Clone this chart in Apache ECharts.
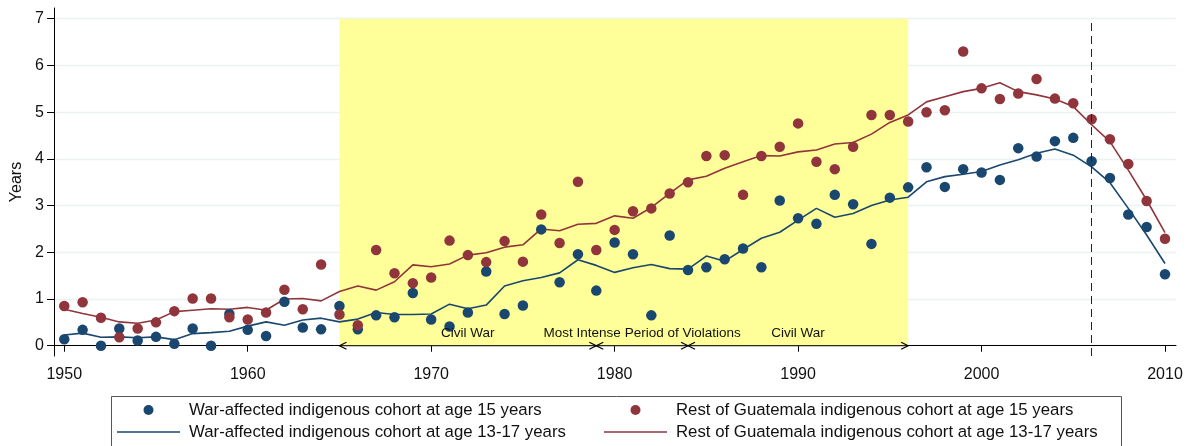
<!DOCTYPE html>
<html lang="en">
<head>
    <meta charset="UTF-8">
    <title>Years of schooling by cohort</title>
    <script src="https://cdn.jsdelivr.net/npm/echarts@6/dist/echarts.min.js"></script>
    <style>
        html, body { margin: 0; padding: 0; background: #fff; }
    </style>
</head>
<body>
    <div id="main" style="width: 1194px; height: 446px;"></div>
    <script>
        var years = [1950, 1951, 1952, 1953, 1954, 1955, 1956, 1957, 1958, 1959,
                     1960, 1961, 1962, 1963, 1964, 1965, 1966, 1967, 1968, 1969,
                     1970, 1971, 1972, 1973, 1974, 1975, 1976, 1977, 1978, 1979,
                     1980, 1981, 1982, 1983, 1984, 1985, 1986, 1987, 1988, 1989,
                     1990, 1991, 1992, 1993, 1994, 1995, 1996, 1997, 1998, 1999,
                     2000, 2001, 2002, 2003, 2004, 2005, 2006, 2007, 2008, 2009,
                     2010];

        // war-affected cohort, age 15 (dots)
        var warAge15 = [0.14, 0.34, 0.00, 0.37, 0.11, 0.19, 0.04, 0.37, 0.00, 0.68,
                        0.34, 0.21, 0.94, 0.39, 0.35, 0.85, 0.35, 0.65, 0.61, 1.13,
                        0.56, 0.41, 0.71, 1.59, 0.68, 0.86, 2.49, 1.36, 1.96, 1.18,
                        2.21, 1.96, 0.65, 2.36, 1.62, 1.68, 1.85, 2.08, 1.68, 3.11,
                        2.73, 2.61, 3.23, 3.03, 2.18, 3.17, 3.39, 3.82, 3.40, 3.78,
                        3.71, 3.55, 4.23, 4.05, 4.38, 4.45, 3.95, 3.59, 2.81, 2.54,
                        1.53];
        // rest of Guatemala, age 15 (dots)
        var restAge15 = [0.85, 0.93, 0.60, 0.18, 0.37, 0.50, 0.74, 1.01, 1.01, 0.61,
                         0.56, 0.71, 1.20, 0.78, 1.74, 0.67, 0.44, 2.05, 1.55, 1.34,
                         1.46, 2.25, 1.94, 1.79, 2.24, 1.80, 2.81, 2.20, 3.51, 2.05,
                         2.48, 2.88, 2.94, 3.26, 3.50, 4.06, 4.08, 3.23, 4.06, 4.26,
                         4.76, 3.94, 3.78, 4.26, 4.94, 4.94, 4.80, 5.00, 5.04, 6.30,
                         5.51, 5.28, 5.40, 5.71, 5.29, 5.19, 4.85, 4.42, 3.89, 3.10,
                         2.29];
        // war-affected cohort, age 13-17 (line)
        var warAge1317 = [0.23, 0.27, 0.18, 0.19, 0.17, 0.19, 0.13, 0.26, 0.28, 0.31,
                          0.42, 0.51, 0.44, 0.55, 0.59, 0.51, 0.57, 0.71, 0.67, 0.67,
                          0.68, 0.89, 0.79, 0.87, 1.28, 1.39, 1.46, 1.56, 1.84, 1.72,
                          1.57, 1.67, 1.74, 1.65, 1.64, 1.92, 1.81, 2.06, 2.30, 2.43,
                          2.69, 2.94, 2.75, 2.83, 3.00, 3.12, 3.18, 3.51, 3.62, 3.67,
                          3.73, 3.87, 3.98, 4.12, 4.21, 4.08, 3.83, 3.49, 2.94, 2.37,
                          1.76];
        // rest of Guatemala, age 13-17 (line)
        var restAge1317 = [0.78, 0.69, 0.61, 0.51, 0.48, 0.55, 0.73, 0.76, 0.79, 0.78,
                           0.82, 0.76, 1.00, 1.01, 0.96, 1.16, 1.28, 1.19, 1.37, 1.73,
                           1.69, 1.75, 1.94, 1.99, 2.11, 2.16, 2.50, 2.46, 2.60, 2.62,
                           2.78, 2.73, 2.96, 3.26, 3.55, 3.63, 3.80, 3.94, 4.07, 4.06,
                           4.15, 4.19, 4.32, 4.35, 4.53, 4.78, 4.94, 5.22, 5.33, 5.44,
                           5.51, 5.63, 5.44, 5.37, 5.28, 5.12, 4.73, 4.37, 3.76, 3.12,
                           2.42];

        var xTicks = [1950, 1960, 1970, 1980, 1990, 2000, 2010];
        var yTicks = [0, 1, 2, 3, 4, 5, 6, 7];

        var warPeriod = [1965, 1996];
        var periodNames = ['Civil War', 'Most Intense Period of Violations', 'Civil War'];
        var periodStart = [1965, 1979, 1984];
        var periodEnd = [1979, 1984, 1996];
        var cutoffYear = 2006;

        var names = [
            'War-affected indigenous cohort at age 15 years',
            'Rest of Guatemala indigenous cohort at age 15 years',
            'War-affected indigenous cohort at age 13-17 years',
            'Rest of Guatemala indigenous cohort at age 13-17 years'
        ];

        var NAVY = '#1a476f';
        var MAROON = '#90353b';
        var FONT = '"Liberation Sans", Arial, sans-serif';
        var LINE_ICON = 'path://M0,0H63V1.6H0Z';

        function pairs(values) {
            return years.map(function (y, i) { return [y, values[i]]; });
        }

        // double-headed arrow with a label above it, one per period
        function renderPeriod(params, api) {
            var a = api.coord([api.value(0), api.value(2)]);
            var b = api.coord([api.value(1), api.value(2)]);
            var len = 7, half = 3.5;
            var stroke = {stroke: '#000', fill: null, lineWidth: 1.2};
            return {
                type: 'group',
                children: [
                    {type: 'line', shape: {x1: a[0], y1: a[1], x2: b[0], y2: b[1]},
                     style: {stroke: '#000', lineWidth: 1}},
                    {type: 'polyline', shape: {points: [[a[0] + len, a[1] - half], [a[0], a[1]], [a[0] + len, a[1] + half]]},
                     style: stroke},
                    {type: 'polyline', shape: {points: [[b[0] - len, b[1] - half], [b[0], b[1]], [b[0] - len, b[1] + half]]},
                     style: stroke},
                    {type: 'text', x: (a[0] + b[0]) / 2, y: a[1] - 5,
                     style: {text: periodNames[params.dataIndex], align: 'center', verticalAlign: 'bottom',
                             fill: '#111', font: '13.5px ' + FONT}}
                ]
            };
        }

        var myChart = echarts.init(document.getElementById('main'));

        var legendText = {fontSize: 16.8, lineHeight: 18, color: '#111', fontFamily: FONT, padding: [0, 0, 0, 4]};

        var option = {
            backgroundColor: '#fff',
            animation: false,
            textStyle: {fontFamily: FONT},
            grid: {left: 54, right: 18, top: 8, bottom: 90},
            xAxis: {
                type: 'value',
                min: 1949.44,
                max: 2010.6,
                axisLine: {lineStyle: {color: '#000', width: 1}},
                axisTick: {customValues: xTicks, length: 6, lineStyle: {color: '#000'}},
                axisLabel: {
                    customValues: xTicks, margin: 11, color: '#111', fontSize: 16, fontFamily: FONT,
                    formatter: function (v) { return String(v); }
                },
                splitLine: {show: false}
            },
            yAxis: {
                type: 'value',
                min: -0.22,
                max: 7.23,
                name: 'Years',
                nameLocation: 'middle',
                nameGap: 25,
                nameTextStyle: {color: '#111', fontSize: 16, fontFamily: FONT},
                axisLine: {show: true, lineStyle: {color: '#000', width: 1}},
                axisTick: {show: true, customValues: yTicks, length: 7, lineStyle: {color: '#000'}},
                axisLabel: {customValues: yTicks, margin: 10, color: '#111', fontSize: 16, fontFamily: FONT},
                splitLine: {show: true, lineStyle: {color: '#eaf2f3', width: 1.3}}
            },
            legend: [
                {
                    left: 117,
                    top: 401,
                    orient: 'vertical',
                    padding: 0,
                    itemGap: 4,
                    itemWidth: 63,
                    itemHeight: 10,
                    selectedMode: false,
                    textStyle: legendText,
                    data: [{name: names[0]}, {name: names[2], icon: LINE_ICON}]
                },
                {
                    left: 604,
                    top: 401,
                    orient: 'vertical',
                    padding: 0,
                    itemGap: 4,
                    itemWidth: 63,
                    itemHeight: 10,
                    selectedMode: false,
                    textStyle: legendText,
                    data: [{name: names[1]}, {name: names[3], icon: LINE_ICON}]
                }
            ],
            graphic: [
                {
                    type: 'rect',
                    left: 109,
                    top: 394,
                    shape: {width: 1010, height: 70},
                    style: {fill: 'none', stroke: '#555', lineWidth: 1}
                }
            ],
            series: [
                {
                    // yellow war band and the dashed cutoff line
                    name: 'band',
                    type: 'line',
                    data: [],
                    z: 1,
                    silent: true,
                    markArea: {
                        silent: true,
                        itemStyle: {color: '#ffff99'},
                        data: [[
                            {coord: [warPeriod[0], 0]},
                            {coord: [warPeriod[1], 7]}
                        ]]
                    },
                    markLine: {
                        silent: true,
                        symbol: 'none',
                        label: {show: false},
                        lineStyle: {color: '#222', width: 1, type: [8, 5]},
                        data: [[
                            {coord: [cutoffYear, -0.22]},
                            {coord: [cutoffYear, 7]}
                        ]]
                    }
                },
                {
                    name: names[2],
                    type: 'line',
                    data: pairs(warAge1317),
                    symbol: 'none',
                    z: 2,
                    lineStyle: {color: NAVY, width: 1.6},
                    itemStyle: {color: NAVY}
                },
                {
                    name: names[3],
                    type: 'line',
                    data: pairs(restAge1317),
                    symbol: 'none',
                    z: 2,
                    lineStyle: {color: MAROON, width: 1.6},
                    itemStyle: {color: MAROON}
                },
                {
                    name: names[0],
                    type: 'scatter',
                    data: pairs(warAge15),
                    symbol: 'circle',
                    symbolSize: 10.5,
                    z: 3,
                    itemStyle: {color: NAVY, opacity: 1}
                },
                {
                    name: names[1],
                    type: 'scatter',
                    data: pairs(restAge15),
                    symbol: 'circle',
                    symbolSize: 10.5,
                    z: 3,
                    itemStyle: {color: MAROON, opacity: 1}
                },
                {
                    name: 'periods',
                    type: 'custom',
                    z: 4,
                    silent: true,
                    renderItem: renderPeriod,
                    encode: {x: [0, 1], y: 2},
                    data: periodNames.map(function (n, i) {
                        return [periodStart[i], periodEnd[i], 0];
                    })
                }
            ]
        };

        myChart.setOption(option);
    </script>
</body>
</html>
